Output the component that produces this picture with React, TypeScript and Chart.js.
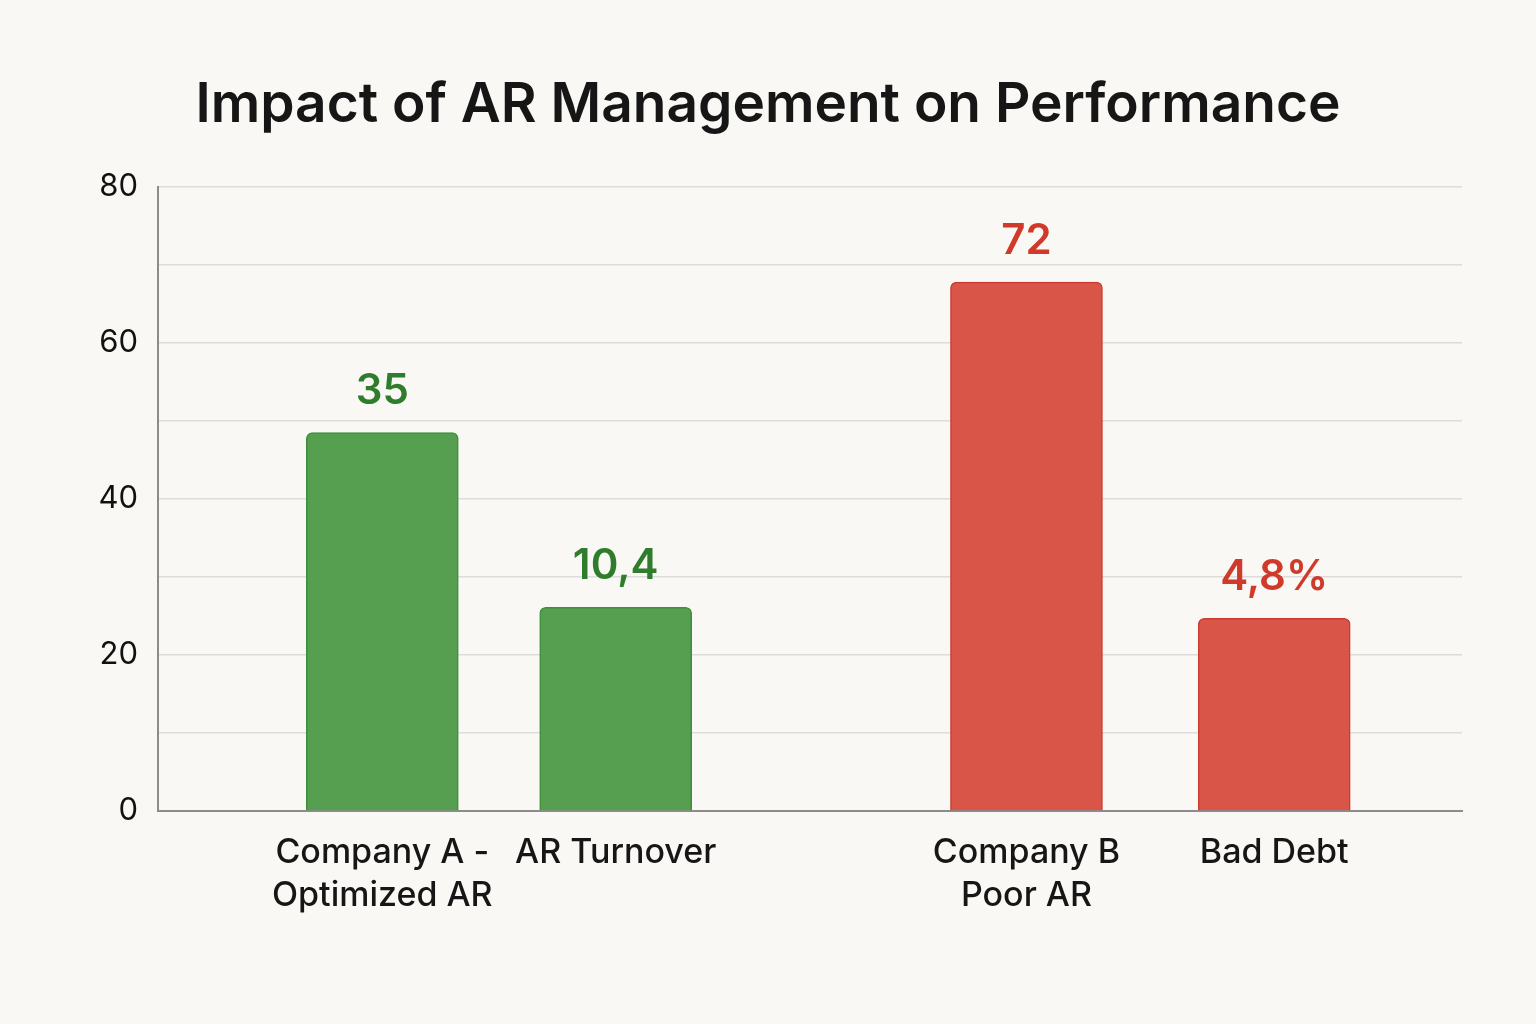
import { Chart, registerables } from 'chart.js';
import { useEffect, useRef } from 'react';

Chart.register(...registerables);

const TITLE = 'Impact of AR Management on Performance';
const CATEGORIES: string[][] = [
    ['Company A -', 'Optimized AR'],
    ['AR Turnover'],
    ['Company B', 'Poor AR'],
    ['Bad Debt'],
];
// where each category sits along the x axis (0–100)
const CATEGORY_POS = [17.2, 35.1, 66.6, 85.6];
const BAR_VALUES = [48.5, 26.1, 67.8, 24.7];
const VALUE_LABELS = ['35', '10,4', '72', '4,8%'];
const Y_TICKS = [0, 20, 40, 60, 80];

const GREEN = '#569e50';
const GREEN_BORDER = '#3f8f3a';
const GREEN_TEXT = '#2f7d2c';
const RED = '#d85547';
const RED_BORDER = '#cc3b2e';
const RED_TEXT = '#d03a2b';
const FONT = 'Inter, "Noto Sans", sans-serif';

const valueLabelPlugin = {
    id: 'valueLabels',
    afterDatasetsDraw(chart: Chart) {
        const { ctx } = chart;
        const meta = chart.getDatasetMeta(0);
        ctx.save();
        ctx.font = `600 42px ${FONT}`;
        ctx.textAlign = 'center';
        ctx.textBaseline = 'middle';
        meta.data.forEach((bar, i) => {
            ctx.fillStyle = i < 2 ? GREEN_TEXT : RED_TEXT;
            ctx.fillText(VALUE_LABELS[i], bar.x, bar.y - 41);
        });
        ctx.restore();
    },
};

function BarChart() {
    const canvasRef = useRef<HTMLCanvasElement>(null);
    const chartRef = useRef<Chart | null>(null);

    useEffect(() => {
        if (!canvasRef.current) return;
        chartRef.current?.destroy();

        chartRef.current = new Chart(canvasRef.current, {
            type: 'bar',
            data: {
                datasets: [
                    {
                        data: BAR_VALUES.map((v, i) => ({
                            x: CATEGORY_POS[i],
                            y: v,
                        })),
                        backgroundColor: BAR_VALUES.map((_, i) =>
                            i < 2 ? GREEN : RED,
                        ),
                        borderColor: BAR_VALUES.map((_, i) =>
                            i < 2 ? GREEN_BORDER : RED_BORDER,
                        ),
                        borderWidth: { top: 1.5, left: 1.5, right: 1.5, bottom: 0 },
                        borderRadius: { topLeft: 6, topRight: 6 },
                        borderSkipped: 'bottom',
                        barThickness: 152,
                    },
                ],
            },
            options: {
                responsive: false,
                animation: false,
                layout: {
                    padding: { top: 40, right: 74, bottom: 86, left: 74 },
                },
                plugins: {
                    legend: { display: false },
                    tooltip: { enabled: false },
                    title: {
                        display: true,
                        text: TITLE,
                        color: '#161616',
                        font: { family: FONT, size: 55, weight: 600 },
                        padding: { top: 32, bottom: 49 },
                    },
                },
                scales: {
                    x: {
                        type: 'linear',
                        min: 0,
                        max: 100,
                        offset: false,
                        grid: { display: false, drawTicks: false, offset: false },
                        border: { color: '#8c8c8c', width: 2 },
                        afterBuildTicks: (scale) => {
                            scale.ticks = CATEGORY_POS.map((v) => ({ value: v }));
                        },
                        ticks: {
                            padding: 21,
                            color: '#161616',
                            font: { family: FONT, size: 34, weight: 500, lineHeight: 1.25 },
                            maxRotation: 0,
                            autoSkip: false,
                            callback: (_v, i) => CATEGORIES[i],
                        },
                    },
                    y: {
                        min: 0,
                        max: 80,
                        afterFit: (scale) => {
                            scale.width = 84;
                        },
                        grid: {
                            color: '#dcdcdc',
                            lineWidth: 1.5,
                            drawTicks: false,
                        },
                        border: { color: '#8c8c8c', width: 2 },
                        ticks: {
                            stepSize: 10,
                            padding: 20,
                            color: '#111111',
                            font: { family: FONT, size: 31, weight: 400 },
                            callback: (v) =>
                                Y_TICKS.includes(Number(v)) ? String(v) : '',
                        },
                    },
                },
            },
            plugins: [valueLabelPlugin],
        });

        return () => {
            chartRef.current?.destroy();
            chartRef.current = null;
        };
    }, []);

    return <canvas ref={canvasRef} width={1536} height={1024} />;
}

export default function App() {
    return (
        <div
            style={{
                position: 'fixed',
                inset: 0,
                background: '#f9f8f4',
            }}
        >
            <BarChart />
        </div>
    );
}
